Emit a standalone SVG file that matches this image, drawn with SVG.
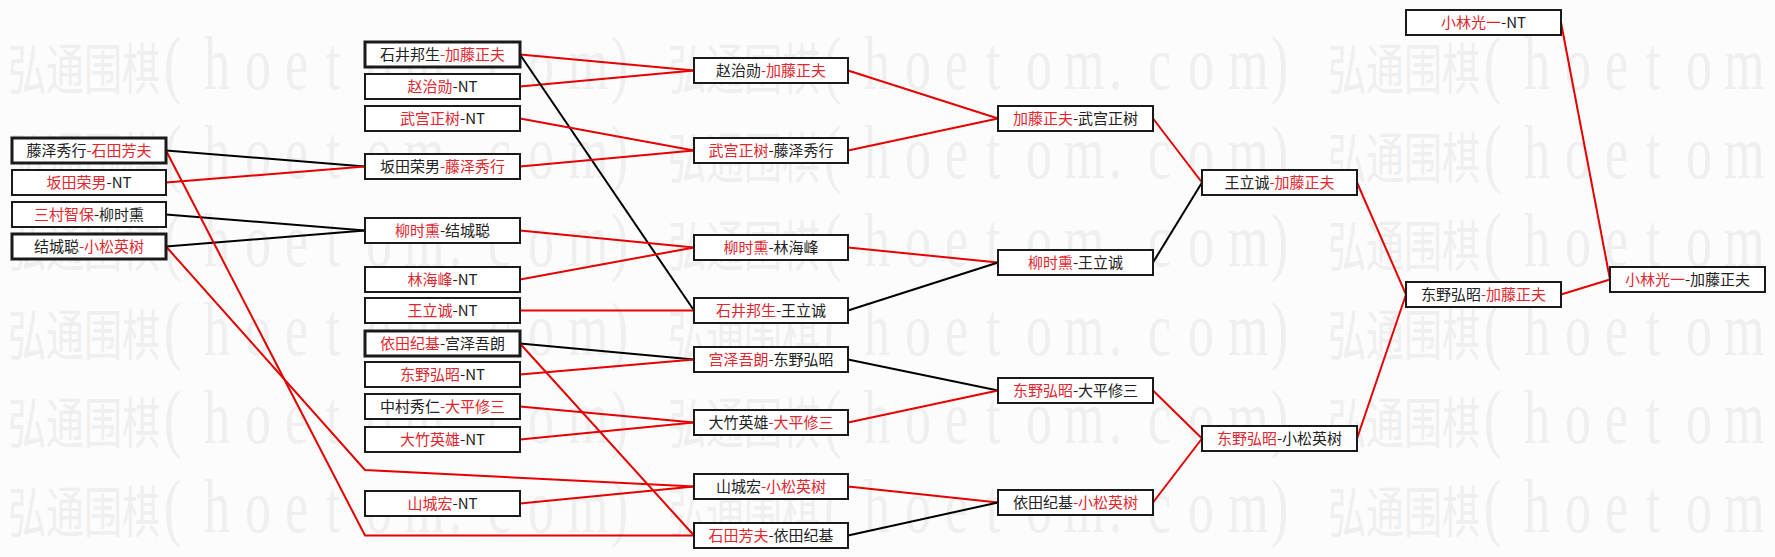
<svg xmlns="http://www.w3.org/2000/svg" width="1775" height="557" viewBox="0 0 1775 557">
<style>
.bg{fill:#fcfcfc}
.wm{fill:#efefef}
.wmc{font-family:"Noto Sans CJK SC",sans-serif;font-size:38px}
.wml{font-family:"Liberation Serif",serif;font-size:52px}
.box{fill:#fff;stroke:#1a1a1a;stroke-width:2}
.thick{stroke-width:3}
.t{font-family:"Noto Sans CJK SC","Liberation Sans",sans-serif;font-size:15px;fill:#222;text-anchor:middle}
.r{fill:#e3262e}
.lr{stroke:#e60000;stroke-width:2;fill:none}
.lb{stroke:#000;stroke-width:2;fill:none}
</style>
<rect class="bg" x="0" y="0" width="1775" height="557"/>
<g id="watermark">
<text class="wm" transform="translate(0,89) scale(1,1.45)"><tspan class="wmc" x="8 46 84 122" y="0">弘通围棋</tspan><tspan class="wml" x="164 204 245 285 326 366 404 449 488 528 568 611" y="0">(hoetom.com)</tspan><tspan class="wmc" x="668 706 744 782" y="0">弘通围棋</tspan><tspan class="wml" x="824 864 905 945 986 1026 1064 1109 1148 1188 1228 1271" y="0">(hoetom.com)</tspan><tspan class="wmc" x="1328 1366 1404 1442" y="0">弘通围棋</tspan><tspan class="wml" x="1484 1524 1565 1605 1646 1686 1724" y="0">(hoetom</tspan></text>
<text class="wm" transform="translate(0,178) scale(1,1.45)"><tspan class="wmc" x="8 46 84 122" y="0">弘通围棋</tspan><tspan class="wml" x="164 204 245 285 326 366 404 449 488 528 568 611" y="0">(hoetom.com)</tspan><tspan class="wmc" x="668 706 744 782" y="0">弘通围棋</tspan><tspan class="wml" x="824 864 905 945 986 1026 1064 1109 1148 1188 1228 1271" y="0">(hoetom.com)</tspan><tspan class="wmc" x="1328 1366 1404 1442" y="0">弘通围棋</tspan><tspan class="wml" x="1484 1524 1565 1605 1646 1686 1724" y="0">(hoetom</tspan></text>
<text class="wm" transform="translate(0,266) scale(1,1.45)"><tspan class="wmc" x="8 46 84 122" y="0">弘通围棋</tspan><tspan class="wml" x="164 204 245 285 326 366 404 449 488 528 568 611" y="0">(hoetom.com)</tspan><tspan class="wmc" x="668 706 744 782" y="0">弘通围棋</tspan><tspan class="wml" x="824 864 905 945 986 1026 1064 1109 1148 1188 1228 1271" y="0">(hoetom.com)</tspan><tspan class="wmc" x="1328 1366 1404 1442" y="0">弘通围棋</tspan><tspan class="wml" x="1484 1524 1565 1605 1646 1686 1724" y="0">(hoetom</tspan></text>
<text class="wm" transform="translate(0,355) scale(1,1.45)"><tspan class="wmc" x="8 46 84 122" y="0">弘通围棋</tspan><tspan class="wml" x="164 204 245 285 326 366 404 449 488 528 568 611" y="0">(hoetom.com)</tspan><tspan class="wmc" x="668 706 744 782" y="0">弘通围棋</tspan><tspan class="wml" x="824 864 905 945 986 1026 1064 1109 1148 1188 1228 1271" y="0">(hoetom.com)</tspan><tspan class="wmc" x="1328 1366 1404 1442" y="0">弘通围棋</tspan><tspan class="wml" x="1484 1524 1565 1605 1646 1686 1724" y="0">(hoetom</tspan></text>
<text class="wm" transform="translate(0,443) scale(1,1.45)"><tspan class="wmc" x="8 46 84 122" y="0">弘通围棋</tspan><tspan class="wml" x="164 204 245 285 326 366 404 449 488 528 568 611" y="0">(hoetom.com)</tspan><tspan class="wmc" x="668 706 744 782" y="0">弘通围棋</tspan><tspan class="wml" x="824 864 905 945 986 1026 1064 1109 1148 1188 1228 1271" y="0">(hoetom.com)</tspan><tspan class="wmc" x="1328 1366 1404 1442" y="0">弘通围棋</tspan><tspan class="wml" x="1484 1524 1565 1605 1646 1686 1724" y="0">(hoetom</tspan></text>
<text class="wm" transform="translate(0,532) scale(1,1.45)"><tspan class="wmc" x="8 46 84 122" y="0">弘通围棋</tspan><tspan class="wml" x="164 204 245 285 326 366 404 449 488 528 568 611" y="0">(hoetom.com)</tspan><tspan class="wmc" x="668 706 744 782" y="0">弘通围棋</tspan><tspan class="wml" x="824 864 905 945 986 1026 1064 1109 1148 1188 1228 1271" y="0">(hoetom.com)</tspan><tspan class="wmc" x="1328 1366 1404 1442" y="0">弘通围棋</tspan><tspan class="wml" x="1484 1524 1565 1605 1646 1686 1724" y="0">(hoetom</tspan></text>
</g>
<g id="connectors">
<polyline class="lb" points="166,150.5 365,166.5"/>
<polyline class="lr" points="166,182.5 365,166.5"/>
<polyline class="lb" points="166,214.5 365,230.5"/>
<polyline class="lb" points="166,246.5 365,230.5"/>
<polyline class="lr" points="166,150.5 365,535.5 694,535.5"/>
<polyline class="lr" points="166,246.5 365,470 694,486.5"/>
<polyline class="lr" points="520,54.5 694,70.5"/>
<polyline class="lr" points="520,86.5 694,70.5"/>
<polyline class="lb" points="520,54.5 694,310.5"/>
<polyline class="lr" points="520,118.5 694,150.5"/>
<polyline class="lr" points="520,166.5 694,150.5"/>
<polyline class="lr" points="520,230.5 694,247.5"/>
<polyline class="lr" points="520,279.5 694,247.5"/>
<polyline class="lr" points="520,310.5 694,310.5"/>
<polyline class="lb" points="520,343.5 694,359.5"/>
<polyline class="lr" points="520,343.5 694,535.5"/>
<polyline class="lr" points="520,374.5 694,359.5"/>
<polyline class="lr" points="520,406.5 694,422.5"/>
<polyline class="lr" points="520,439.5 694,422.5"/>
<polyline class="lr" points="520,503.5 694,486.5"/>
<polyline class="lr" points="848,70.5 998,118.5"/>
<polyline class="lr" points="848,150.5 998,118.5"/>
<polyline class="lr" points="848,247.5 998,262.5"/>
<polyline class="lb" points="848,310.5 998,262.5"/>
<polyline class="lb" points="848,359.5 998,390.5"/>
<polyline class="lr" points="848,422.5 998,390.5"/>
<polyline class="lr" points="848,486.5 998,502.5"/>
<polyline class="lb" points="848,535.5 998,502.5"/>
<polyline class="lr" points="1153,118.5 1202,182.5"/>
<polyline class="lb" points="1153,262.5 1202,182.5"/>
<polyline class="lr" points="1153,390.5 1202,438.5"/>
<polyline class="lr" points="1153,502.5 1202,438.5"/>
<polyline class="lr" points="1357,182.5 1406,294.5"/>
<polyline class="lr" points="1357,438.5 1406,294.5"/>
<polyline class="lr" points="1561,22.5 1610,279.5"/>
<polyline class="lr" points="1561,294.5 1610,279.5"/>
</g>
<g id="n1"><rect class="box thick" x="12" y="138" width="154" height="25"/><text class="t" x="89" y="156">藤泽秀行<tspan class="r">-石田芳夫</tspan></text></g>
<g id="n2"><rect class="box" x="12" y="170" width="154" height="25"/><text class="t" x="89" y="188"><tspan class="r">坂田荣男</tspan>-NT</text></g>
<g id="n3"><rect class="box" x="12" y="202" width="154" height="25"/><text class="t" x="89" y="220"><tspan class="r">三村智保</tspan>-柳时熏</text></g>
<g id="n4"><rect class="box thick" x="12" y="234" width="154" height="25"/><text class="t" x="89" y="252">结城聪<tspan class="r">-小松英树</tspan></text></g>
<g id="n5"><rect class="box thick" x="365" y="42" width="155" height="25"/><text class="t" x="442.5" y="60">石井邦生<tspan class="r">-加藤正夫</tspan></text></g>
<g id="n6"><rect class="box" x="365" y="74" width="155" height="25"/><text class="t" x="442.5" y="92"><tspan class="r">赵治勋</tspan>-NT</text></g>
<g id="n7"><rect class="box" x="365" y="106" width="155" height="25"/><text class="t" x="442.5" y="124"><tspan class="r">武宫正树</tspan>-NT</text></g>
<g id="n8"><rect class="box" x="365" y="154" width="155" height="25"/><text class="t" x="442.5" y="172">坂田荣男<tspan class="r">-藤泽秀行</tspan></text></g>
<g id="n9"><rect class="box" x="365" y="218" width="155" height="25"/><text class="t" x="442.5" y="236"><tspan class="r">柳时熏</tspan>-结城聪</text></g>
<g id="n10"><rect class="box" x="365" y="267" width="155" height="25"/><text class="t" x="442.5" y="285"><tspan class="r">林海峰</tspan>-NT</text></g>
<g id="n11"><rect class="box" x="365" y="298" width="155" height="25"/><text class="t" x="442.5" y="316"><tspan class="r">王立诚</tspan>-NT</text></g>
<g id="n12"><rect class="box thick" x="365" y="331" width="155" height="25"/><text class="t" x="442.5" y="349"><tspan class="r">依田纪基</tspan>-宫泽吾朗</text></g>
<g id="n13"><rect class="box" x="365" y="362" width="155" height="25"/><text class="t" x="442.5" y="380"><tspan class="r">东野弘昭</tspan>-NT</text></g>
<g id="n14"><rect class="box" x="365" y="394" width="155" height="25"/><text class="t" x="442.5" y="412">中村秀仁<tspan class="r">-大平修三</tspan></text></g>
<g id="n15"><rect class="box" x="365" y="427" width="155" height="25"/><text class="t" x="442.5" y="445"><tspan class="r">大竹英雄</tspan>-NT</text></g>
<g id="n16"><rect class="box" x="365" y="491" width="155" height="25"/><text class="t" x="442.5" y="509"><tspan class="r">山城宏</tspan>-NT</text></g>
<g id="n17"><rect class="box" x="694" y="58" width="154" height="25"/><text class="t" x="771" y="76">赵治勋<tspan class="r">-加藤正夫</tspan></text></g>
<g id="n18"><rect class="box" x="694" y="138" width="154" height="25"/><text class="t" x="771" y="156"><tspan class="r">武宫正树</tspan>-藤泽秀行</text></g>
<g id="n19"><rect class="box" x="694" y="235" width="154" height="25"/><text class="t" x="771" y="253"><tspan class="r">柳时熏</tspan>-林海峰</text></g>
<g id="n20"><rect class="box" x="694" y="298" width="154" height="25"/><text class="t" x="771" y="316"><tspan class="r">石井邦生</tspan>-王立诚</text></g>
<g id="n21"><rect class="box" x="694" y="347" width="154" height="25"/><text class="t" x="771" y="365"><tspan class="r">宫泽吾朗</tspan>-东野弘昭</text></g>
<g id="n22"><rect class="box" x="694" y="410" width="154" height="25"/><text class="t" x="771" y="428">大竹英雄<tspan class="r">-大平修三</tspan></text></g>
<g id="n23"><rect class="box" x="694" y="474" width="154" height="25"/><text class="t" x="771" y="492">山城宏<tspan class="r">-小松英树</tspan></text></g>
<g id="n24"><rect class="box" x="694" y="523" width="154" height="25"/><text class="t" x="771" y="541"><tspan class="r">石田芳夫</tspan>-依田纪基</text></g>
<g id="n25"><rect class="box" x="998" y="106" width="155" height="25"/><text class="t" x="1075.5" y="124"><tspan class="r">加藤正夫</tspan>-武宫正树</text></g>
<g id="n26"><rect class="box" x="998" y="250" width="155" height="25"/><text class="t" x="1075.5" y="268"><tspan class="r">柳时熏</tspan>-王立诚</text></g>
<g id="n27"><rect class="box" x="998" y="378" width="155" height="25"/><text class="t" x="1075.5" y="396"><tspan class="r">东野弘昭</tspan>-大平修三</text></g>
<g id="n28"><rect class="box" x="998" y="490" width="155" height="25"/><text class="t" x="1075.5" y="508">依田纪基<tspan class="r">-小松英树</tspan></text></g>
<g id="n29"><rect class="box" x="1202" y="170" width="155" height="25"/><text class="t" x="1279.5" y="188">王立诚<tspan class="r">-加藤正夫</tspan></text></g>
<g id="n30"><rect class="box" x="1202" y="426" width="155" height="25"/><text class="t" x="1279.5" y="444"><tspan class="r">东野弘昭</tspan>-小松英树</text></g>
<g id="n31"><rect class="box" x="1406" y="10" width="155" height="25"/><text class="t" x="1483.5" y="28"><tspan class="r">小林光一</tspan>-NT</text></g>
<g id="n32"><rect class="box" x="1406" y="282" width="155" height="25"/><text class="t" x="1483.5" y="300">东野弘昭<tspan class="r">-加藤正夫</tspan></text></g>
<g id="n33"><rect class="box" x="1610" y="267" width="155" height="25"/><text class="t" x="1687.5" y="285"><tspan class="r">小林光一</tspan>-加藤正夫</text></g>
</svg>
